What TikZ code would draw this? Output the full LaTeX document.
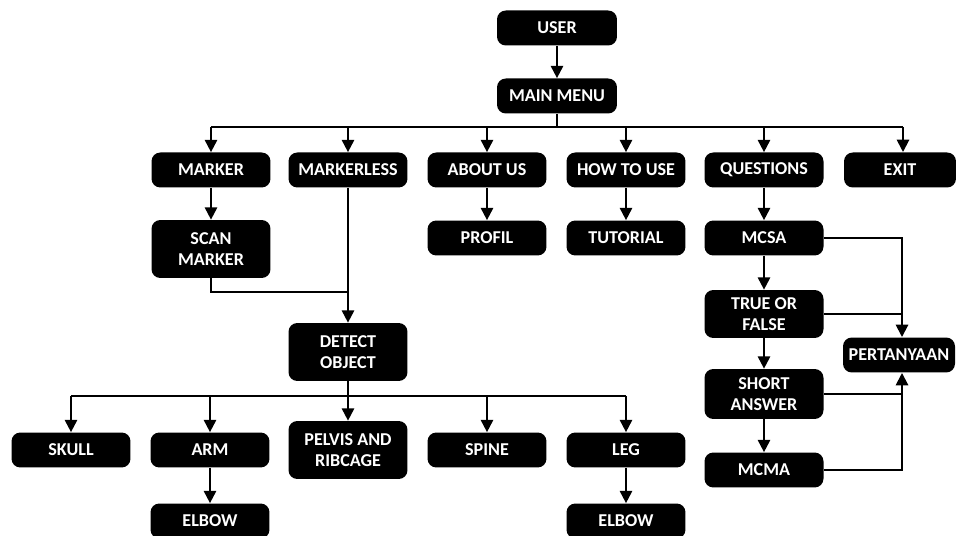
\documentclass[tikz,border=0pt]{standalone}
\usepackage{fontspec}
\setmainfont{Carlito}
\usepackage{xcolor}
\usepackage{tikz}
\usetikzlibrary{arrows.meta,positioning}

\tikzset{
  menubox/.style={fill=black, text=white, rounded corners=5pt, align=center,
                  minimum width=2.38cm, minimum height=0.7cm, inner sep=1pt,
                  font=\bfseries\fontsize{10.3}{12}\selectfont},
  tallbox/.style={menubox, minimum height=1.16cm},
  wire/.style={draw, line width=1.1pt},
  link/.style={wire, -{Triangle[width=7pt,length=7pt]}}
}

\begin{document}
\begin{tikzpicture}[x=0.02cm, y=-0.02cm]
            \useasboundingbox (0,0) rectangle (956,536);
            % top
            \node[menubox, minimum width=2.4cm] (user) at (557,28) {USER};
            \node[menubox, minimum width=2.4cm] (mainmenu) at (557,96) {MAIN MENU};
            % first row
            \node[menubox] (marker) at (211,170) {MARKER};
            \node[menubox] (markerless) at (348,170) {MARKERLESS};
            \node[menubox] (aboutus) at (487,170) {ABOUT US};
            \node[menubox] (howto) at (626,170) {HOW TO USE};
            \node[menubox] (questions) at (764,170) {QUESTIONS};
            \node[menubox, minimum width=2.24cm] (exit) at (900,170) {EXIT};
            % second row
            \node[tallbox] (scanmarker) at (211,249) {SCAN\\MARKER};
            \node[menubox] (profil) at (487,238) {PROFIL};
            \node[menubox] (tutorial) at (626,238) {TUTORIAL};
            \node[menubox] (mcsa) at (764,238) {MCSA};
            \node[tallbox] (detect) at (348,352) {DETECT\\OBJECT};
            % questions column
            \node[menubox, minimum height=0.96cm] (trueorfalse) at (764,314) {TRUE OR\\FALSE};
            \node[menubox, minimum height=1cm] (shortanswer) at (764,394) {SHORT\\ANSWER};
            \node[menubox] (mcma) at (764,470) {MCMA};
            \node[menubox, minimum width=2.24cm] (pertanyaan) at (899,355) {PERTANYAAN};
            % body parts
            \node[menubox] (skull) at (71,450) {SKULL};
            \node[menubox] (arm) at (210,450) {ARM};
            \node[tallbox] (pelvis) at (348,450) {PELVIS AND\\RIBCAGE};
            \node[menubox] (spine) at (487,450) {SPINE};
            \node[menubox] (leg) at (626,450) {LEG};
            \node[menubox] (armelbow) at (210,521) {ELBOW};
            \node[menubox] (legelbow) at (626,521) {ELBOW};

            \coordinate (menubus) at (557,127);
            \coordinate (scanjoin) at (348,292);
            \coordinate (partbus) at (348,396);
            \coordinate (exitdrop) at (903,152);
            \coordinate (pertop) at (902,337);
            \coordinate (perbottom) at (902,373);

            \draw[link] (user) -- (mainmenu);
            \draw[wire] (mainmenu) -- (menubus);
            \draw[wire] (marker |- menubus) -- (exitdrop |- menubus);
            \foreach \n in {marker,markerless,aboutus,howto,questions}
                \draw[link] (\n |- menubus) -- (\n);
            \draw[link] (exitdrop |- menubus) -- (exitdrop);

            \draw[link] (marker) -- (scanmarker);
            \draw[link] (aboutus) -- (profil);
            \draw[link] (howto) -- (tutorial);
            \draw[link] (questions) -- (mcsa);
            \draw[wire] (scanmarker.south) |- (scanjoin);
            \draw[link] (markerless) -- (detect);

            \draw[wire] (detect) -- (partbus);
            \draw[wire] (skull |- partbus) -- (leg |- partbus);
            \foreach \n in {skull,arm,pelvis,spine,leg}
                \draw[link] (\n |- partbus) -- (\n);
            \draw[link] (arm) -- (armelbow);
            \draw[link] (leg) -- (legelbow);

            \draw[link] (mcsa) -- (trueorfalse);
            \draw[link] (trueorfalse) -- (shortanswer);
            \draw[link] (shortanswer) -- (mcma);
            \draw[link] (mcsa.east) -| (pertop);
            \draw[wire] (trueorfalse.east) -- (trueorfalse.east -| pertop);
            \draw[link] (mcma.east) -| (perbottom);
            \draw[wire] (shortanswer.east) -- (shortanswer.east -| perbottom);
        \end{tikzpicture}
\end{document}
